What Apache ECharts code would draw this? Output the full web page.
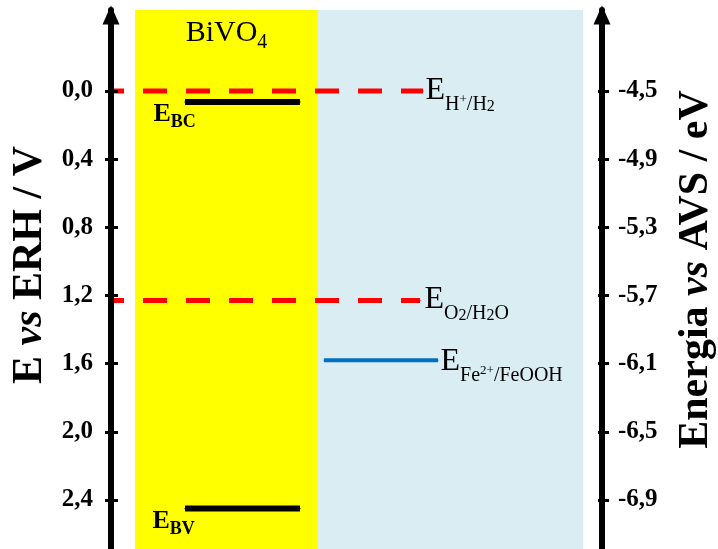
<!DOCTYPE html>
<html><head><meta charset="utf-8">
<script src="https://cdn.jsdelivr.net/npm/echarts@6/dist/echarts.min.js"></script>
<style>html,body{margin:0;padding:0;background:#fff}#c{width:718px;height:549px}</style>
</head><body><div id="c"></div>
<script>
// ---------- data ----------
const leftTicks = [0.0, 0.4, 0.8, 1.2, 1.6, 2.0, 2.4];          // E vs ERH / V
const rightTicks = [-4.5, -4.9, -5.3, -5.7, -6.1, -6.5, -6.9];  // Energia vs AVS / eV
const bandLevels = [0.065, 2.45];      // E_BC, E_BV of BiVO4 (V vs ERH)
const redoxLevels = [0.0, 1.23];       // E(H+/H2), E(O2/H2O)
const feLevels = [1.58];               // E(Fe2+/FeOOH)
const yRange = [-0.475, 2.688];        // visible range of the left scale
const vacuumShift = -4.5;              // AVS = -4.5 - ERH

// ---------- layout (x in px from the left axis) ----------
const X = {
  yellow: [24, 207], blue: [207, 472],
  band: [74, 189], h2: [0, 312], o2: [0, 309], fe: [213, 327], max: 491
};
const SERIF = "'Liberation Serif','Times New Roman',serif";
const fmt = v => v.toFixed(1).replace('.', ',');

const richE = {
  e: {fontFamily: SERIF, fontSize: 32, lineHeight: 32, verticalAlign: 'bottom', padding: [0, 0, 8, 0], color: '#000'},
  s: {fontFamily: SERIF, fontSize: 20, lineHeight: 20, verticalAlign: 'bottom', color: '#000'},
  p: {fontFamily: SERIF, fontSize: 13, lineHeight: 13, verticalAlign: 'bottom', padding: [0, 0, 9, 0], color: '#000'},
  q: {fontFamily: SERIF, fontSize: 16, lineHeight: 16, verticalAlign: 'bottom', color: '#000'}
};
const richB = {
  e: {fontFamily: SERIF, fontWeight: 'bold', fontSize: 26, lineHeight: 26, verticalAlign: 'bottom', padding: [0, 0, 4, 0], color: '#000'},
  s: {fontFamily: SERIF, fontWeight: 'bold', fontSize: 18, lineHeight: 18, verticalAlign: 'bottom', color: '#000'}
};

function hline(name, xs, y, color, width, dashed, labelText, labelAtEnd, labelCfg) {
  const lab = Object.assign({show: true, formatter: labelText}, labelCfg);
  const p0 = {value: [xs[0], y]}, p1 = {value: [xs[1], y]};
  if (labelAtEnd) p1.label = lab; else p0.label = lab;
  return {
    name, type: 'line', xAxisIndex: 0, yAxisIndex: 0, z: 3,
    symbol: 'rect', symbolSize: 1, showSymbol: true, silent: true,
    itemStyle: {color, borderWidth: 0},
    lineStyle: dashed ? {color, width, type: [24, 19], dashOffset: 11, cap: 'butt'} : {color, width, cap: 'butt'},
    label: {show: false},
    emphasis: {disabled: true},
    data: [p0, p1]
  };
}

const tickAxis = (pos, min, max, inverse, vals, len) => ({
  type: 'value', position: pos, min, max, inverse, z: 6,
  axisLine: {show: false}, splitLine: {show: false}, axisLabel: {show: false},
  axisTick: {show: true, inside: true, customValues: vals, length: len, lineStyle: {color: '#000', width: 3}}
});

const titleStyle = pad => ({fontFamily: SERIF, fontWeight: 'bold', fontSize: 42, color: '#000', padding: [0, 0, 0, pad],
  rich: {i: {fontFamily: SERIF, fontWeight: 'bold', fontStyle: 'italic', fontSize: 42, color: '#000'}}});

const option = {
  animation: false,
  backgroundColor: '#fff',
  grid: {left: 111, right: 116, top: 10, bottom: 0, containLabel: false, outerBoundsMode: 'none'},
  xAxis: {type: 'value', min: 0, max: X.max, show: false},
  yAxis: [
    {
      type: 'value', position: 'left', inverse: true, min: yRange[0], max: yRange[1], z: 6,
      splitLine: {show: false},
      axisLine: {show: true, lineStyle: {color: '#000', width: 6}, symbol: ['none', 'triangle'], symbolSize: [17, 19], symbolOffset: [0, -5]},
      axisTick: {show: true, customValues: leftTicks, length: 6, lineStyle: {color: '#000', width: 3}},
      axisLabel: {customValues: leftTicks, formatter: fmt, fontFamily: SERIF, fontWeight: 'bold', fontSize: 25, color: '#000', margin: 18},
      name: 'E {i|vs} ERH / V', nameLocation: 'middle', nameGap: 60,
      nameTextStyle: titleStyle(29)
    },
    {
      type: 'value', position: 'right', min: vacuumShift - yRange[1], max: vacuumShift - yRange[0], z: 6,
      splitLine: {show: false},
      axisLine: {show: true, lineStyle: {color: '#000', width: 6}, symbol: ['none', 'triangle'], symbolSize: [17, 19], symbolOffset: [0, -5]},
      axisTick: {show: true, customValues: rightTicks, length: 7, lineStyle: {color: '#000', width: 3}},
      axisLabel: {customValues: rightTicks, formatter: fmt, fontFamily: SERIF, fontWeight: 'bold', fontSize: 25, color: '#000', margin: 16},
      name: 'Energia {i|vs} AVS / eV', nameLocation: 'middle', nameGap: 73,
      nameTextStyle: titleStyle(20)
    },
    tickAxis('left', yRange[0], yRange[1], true, leftTicks, 7),
    tickAxis('right', vacuumShift - yRange[1], vacuumShift - yRange[0], false, rightTicks, 4)
  ],
  series: [
    Object.assign(
      hline('H+/H2', X.h2, redoxLevels[0], '#FF0000', 5, true, '{e|E}{s|H}{p|+}{s|/H}{q|2}', true,
        {position: 'right', distance: 2, offset: [0, 8], rich: richE}),
      {markArea: {silent: true, z: 1, data: [
        [{xAxis: X.yellow[0], yAxis: yRange[0], itemStyle: {color: '#FFFF00'},
          label: {show: true, position: 'insideTop', distance: 13, formatter: '{a|BiVO}{b|4}', rich: {
            a: {fontFamily: SERIF, fontSize: 30, lineHeight: 30, verticalAlign: 'bottom', padding: [0, 0, 5, 0], color: '#000'},
            b: {fontFamily: SERIF, fontSize: 20, lineHeight: 20, verticalAlign: 'bottom', color: '#000'}}}},
         {xAxis: X.yellow[1], yAxis: yRange[1]}],
        [{xAxis: X.blue[0], yAxis: yRange[0], itemStyle: {color: '#DAEDF3'}, label: {show: false}},
         {xAxis: X.blue[1], yAxis: yRange[1]}]
      ]}}),
    hline('O2/H2O', X.o2, redoxLevels[1], '#FF0000', 5, true, '{e|E}{s|O}{q|2}{s|/H}{q|2}{s|O}', true,
      {position: 'right', distance: 4, offset: [0, 7], rich: richE}),
    hline('Fe2+/FeOOH', X.fe, feLevels[0], '#0070C0', 4, false, '{e|E}{s|Fe}{p|2+}{s|/FeOOH}', true,
      {position: 'right', distance: 2, offset: [0, 9.5], rich: richE}),
    hline('E_BC', X.band, bandLevels[0], '#000000', 6, false, '{e|E}{s|BC}', false,
      {position: [-31, 17], align: 'left', verticalAlign: 'middle', rich: richB}),
    hline('E_BV', X.band, bandLevels[1], '#000000', 6, false, '{e|E}{s|BV}', false,
      {position: [-32, 17], align: 'left', verticalAlign: 'middle', rich: richB})
  ]
};
const chart = echarts.init(document.getElementById('c'), null, {renderer: 'canvas'});
chart.setOption(option);
</script></body></html>
